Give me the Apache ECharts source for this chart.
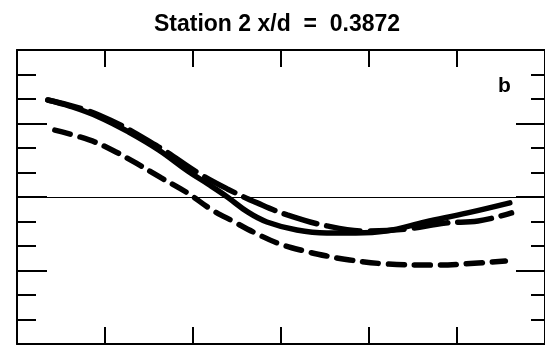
<!DOCTYPE html>
<html>
<head>
<meta charset="utf-8">
<script src="https://cdn.jsdelivr.net/npm/echarts@6/dist/echarts.min.js"></script>
<style>
  html, body { margin: 0; padding: 0; background: #fff; }
  #chart { width: 545px; height: 346px; }
</style>
</head>
<body>
<div id="chart"></div>
<script>
// Profiles (x in tick units, y in tick units)
const solidX = [0.35, 0.60, 0.93, 1.27, 1.61, 1.94, 2.17, 2.39, 2.62, 2.84, 3.18, 3.52, 3.85, 4.19, 4.64, 5.12, 5.60];
const solidY = [3.96, 3.71, 3.27, 2.65, 1.92, 1.06, 0.53, 0.00, -0.61, -1.02, -1.35, -1.47, -1.47, -1.39, -1.02, -0.65, -0.24];

const longDashX = [0.35, 0.93, 1.61, 2.06, 2.39, 2.73, 3.07, 3.52, 3.97, 4.42, 4.87, 5.24, 5.62];
const longDashY = [3.96, 3.35, 2.04, 0.98, 0.33, -0.24, -0.73, -1.18, -1.39, -1.31, -1.06, -0.98, -0.65];

const shortDashX = [0.43, 0.82, 1.08, 1.35, 1.64, 1.94, 2.20, 2.47, 2.73, 2.99, 3.26, 3.52, 3.78, 4.19, 4.79, 5.09, 5.55];
const shortDashY = [2.73, 2.33, 1.92, 1.39, 0.78, 0.16, -0.49, -1.02, -1.51, -1.92, -2.20, -2.41, -2.57, -2.73, -2.78, -2.73, -2.61];

const titleText = 'Station 2 x/d  =  0.3872';
const panelLabel = 'b';

const zip = (xs, ys) => xs.map((x, i) => [x, ys[i]]);

const chart = echarts.init(document.getElementById('chart'));

const frameLine = { show: true, onZero: false, lineStyle: { color: '#000', width: 2 } };

const xAxisBase = {
  type: 'value',
  min: 0,
  max: 6,
  interval: 1,
  axisLine: frameLine,
  axisTick: { show: true, inside: true, length: 17, lineStyle: { color: '#000', width: 2 } },
  axisLabel: { show: false },
  splitLine: { show: false }
};

const yAxisBase = {
  type: 'value',
  min: -6,
  max: 6,
  interval: 3,
  axisLine: frameLine,
  axisLabel: { show: false },
  splitLine: { show: false }
};

chart.setOption({
  animation: false,
  backgroundColor: '#fff',
  title: {
    text: titleText,
    left: 272,
    textAlign: 'center',
    top: 8,
    textStyle: { fontFamily: 'Liberation Sans, Arial, sans-serif', fontWeight: 'bold', fontSize: 23, color: '#000' }
  },
  graphic: [{
    type: 'text',
    left: 498,
    top: 76,
    style: { text: panelLabel, font: 'bold 21px "Liberation Sans", Arial, sans-serif', fill: '#000' }
  }],
  grid: { left: 17, top: 50, width: 534, height: 294 },
  xAxis: [
    Object.assign({}, xAxisBase, { position: 'bottom' }),
    Object.assign({}, xAxisBase, { position: 'top' })
  ],
  yAxis: [
    Object.assign({}, yAxisBase, {
      position: 'left',
      axisTick: { show: true, inside: true, length: 30, lineStyle: { color: '#000', width: 2 } },
      minorTick: { show: true, splitNumber: 3, length: 19, lineStyle: { color: '#000', width: 2 } }
    }),
    Object.assign({}, yAxisBase, {
      position: 'right',
      axisTick: { show: true, inside: true, length: 29, lineStyle: { color: '#000', width: 2 } },
      minorTick: { show: true, splitNumber: 3, length: 14, lineStyle: { color: '#000', width: 2 } }
    })
  ],
  series: [
    {
      name: 'solid',
      type: 'line',
      smooth: 0.4,
      symbol: 'none',
      data: zip(solidX, solidY),
      lineStyle: { color: '#000', width: 5.5, cap: 'round' },
      markLine: {
        silent: true,
        symbol: 'none',
        label: { show: false },
        lineStyle: { color: '#000', width: 1.2, type: 'solid' },
        data: [{ yAxis: 0 }]
      }
    },
    {
      name: 'long dash',
      type: 'line',
      smooth: 0.4,
      symbol: 'none',
      data: zip(longDashX, longDashY),
      lineStyle: { color: '#000', width: 5.5, type: [34, 10], cap: 'round' }
    },
    {
      name: 'short dash',
      type: 'line',
      smooth: 0.4,
      symbol: 'none',
      data: zip(shortDashX, shortDashY),
      lineStyle: { color: '#000', width: 5.5, type: [16, 10], cap: 'round' }
    }
  ]
});
</script>
</body>
</html>
